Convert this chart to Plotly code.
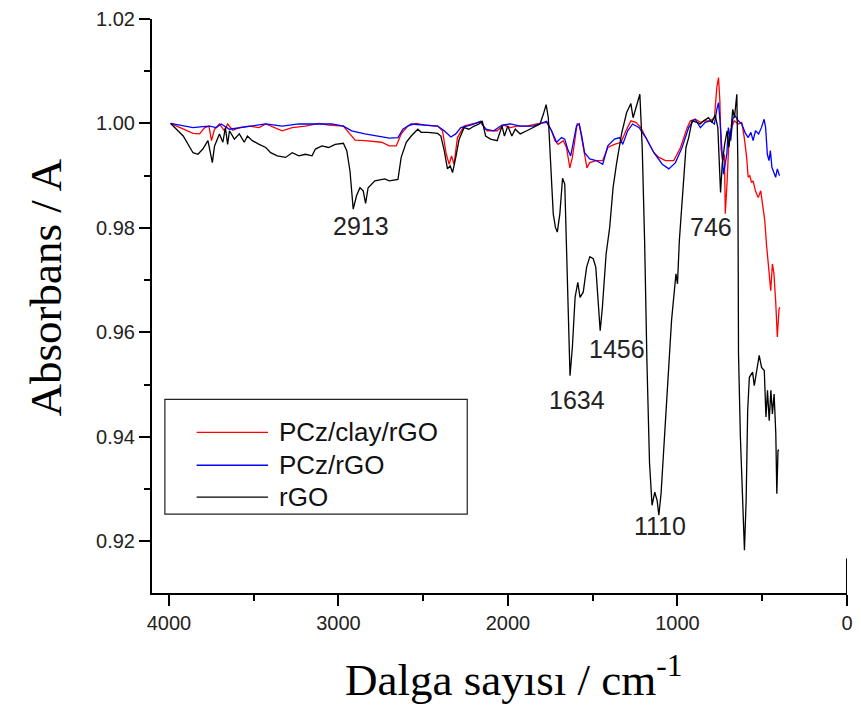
import plotly.graph_objects as go

# FTIR spectra: wavenumber (cm-1) and absorbance for each sample
series_names = ["PCz/clay/rGO", "PCz/rGO", "rGO"]
series_colors = ["#ff0000", "#0000ff", "#000000"]

wn_pcz_clay_rgo = [3990, 3936, 3897, 3858, 3819, 3789, 3764, 3749, 3731, 3702, 3673, 3654, 3624, 3585,
                   3527, 3468, 3429, 3371, 3332, 3273, 3195, 3117, 3058, 2971, 2941, 2902, 2844, 2746,
                   2700, 2659, 2630, 2591, 2542, 2493, 2415, 2386, 2366, 2347, 2333, 2318, 2298, 2259,
                   2211, 2162, 2123, 2064, 2025, 1986, 1947, 1889, 1830, 1772, 1743, 1723, 1704, 1674,
                   1655, 1635, 1620, 1606, 1592, 1580, 1567, 1548, 1534, 1518, 1480, 1441, 1411, 1372,
                   1333, 1304, 1275, 1246, 1216, 1177, 1139, 1110, 1070, 1022, 982, 943, 924, 895, 865,
                   836, 807, 782, 768, 758, 750, 743, 733, 723, 718, 707, 696, 680, 665, 641, 621, 606,
                   592, 583, 573, 563, 554, 540, 524, 509, 495, 485, 475, 462, 450, 440, 431, 421, 411,
                   401, 396]
ab_pcz_clay_rgo = [1.0000, 0.9992, 0.9986, 0.9981, 0.9980, 0.9992, 0.9995, 0.9967, 0.9989, 0.9999,
                   0.9986, 0.9999, 0.9987, 0.9992, 0.9995, 0.9992, 0.9999, 0.9992, 0.9986, 0.9992,
                   0.9995, 1.0000, 0.9997, 0.9995, 0.9983, 0.9968, 0.9967, 0.9964, 0.9957, 0.9957,
                   0.9980, 0.9995, 1.0000, 0.9997, 0.9995, 0.9986, 0.9944, 0.9922, 0.9938, 0.9922,
                   0.9973, 0.9995, 0.9999, 1.0002, 0.9986, 0.9986, 0.9997, 0.9992, 0.9995, 0.9995,
                   0.9999, 1.0002, 0.9986, 0.9967, 0.9960, 0.9967, 0.9954, 0.9915, 0.9935, 0.9967,
                   0.9999, 0.9999, 0.9973, 0.9935, 0.9915, 0.9925, 0.9929, 0.9929, 0.9954, 0.9960,
                   0.9964, 0.9986, 1.0005, 1.0002, 0.9992, 0.9967, 0.9944, 0.9935, 0.9929, 0.9929,
                   0.9954, 0.9992, 1.0005, 1.0008, 1.0002, 1.0005, 1.0005, 1.0011, 1.0069, 1.0088,
                   1.0043, 0.9951, 0.9929, 0.9941, 0.9827, 0.9890, 0.9973, 0.9992, 1.0005, 0.9999,
                   1.0002, 0.9973, 0.9935, 0.9897, 0.9900, 0.9887, 0.9890, 0.9871, 0.9858, 0.9871,
                   0.9839, 0.9814, 0.9769, 0.9725, 0.9680, 0.9731, 0.9712, 0.9661, 0.9591, 0.9645,
                   0.9648]

wn_pcz_rgo = [3990, 3916, 3858, 3800, 3760, 3721, 3692, 3643, 3585, 3527, 3429, 3332, 3234, 3136,
              3039, 2971, 2922, 2844, 2746, 2700, 2649, 2620, 2571, 2512, 2415, 2376, 2337, 2308,
              2278, 2220, 2162, 2132, 2084, 2035, 1986, 1928, 1850, 1772, 1743, 1713, 1684, 1665,
              1645, 1630, 1612, 1596, 1580, 1567, 1548, 1518, 1480, 1441, 1411, 1372, 1342, 1323,
              1294, 1265, 1226, 1187, 1139, 1090, 1051, 1012, 973, 934, 905, 895, 865, 836, 807,
              782, 768, 758, 749, 739, 729, 719, 709, 700, 686, 674, 661, 641, 621, 602, 583, 567,
              554, 540, 521, 505, 489, 480, 470, 460, 452, 443, 431, 421, 411, 398]
ab_pcz_rgo = [1.0000, 0.9995, 0.9992, 0.9994, 0.9995, 0.9992, 0.9999, 0.9989, 0.9992, 0.9995,
              0.9999, 0.9995, 0.9999, 0.9999, 0.9999, 0.9995, 0.9986, 0.9980, 0.9974, 0.9972,
              0.9973, 0.9989, 0.9999, 0.9997, 0.9995, 0.9986, 0.9974, 0.9980, 0.9992, 0.9997,
              1.0004, 0.9989, 0.9986, 0.9997, 0.9999, 0.9995, 0.9995, 1.0004, 0.9986, 0.9964,
              0.9973, 0.9970, 0.9948, 0.9938, 0.9967, 0.9995, 0.9999, 0.9980, 0.9944, 0.9932,
              0.9929, 0.9922, 0.9957, 0.9970, 0.9973, 0.9960, 0.9986, 0.9999, 0.9992, 0.9973,
              0.9944, 0.9922, 0.9913, 0.9925, 0.9954, 0.9992, 1.0006, 1.0008, 0.9992, 1.0002,
              1.0005, 0.9999, 1.0027, 1.0040, 1.0005, 0.9941, 0.9903, 0.9922, 0.9941, 0.9992,
              0.9967, 1.0008, 1.0015, 1.0005, 0.9999, 0.9983, 0.9973, 0.9983, 0.9967, 0.9986,
              0.9980, 0.9992, 1.0008, 0.9992, 0.9941, 0.9929, 0.9948, 0.9916, 0.9906, 0.9897,
              0.9913, 0.9900]

wn_rgo = [3990, 3916, 3858, 3829, 3800, 3770, 3744, 3731, 3702, 3682, 3667, 3654, 3643, 3614, 3585,
          3556, 3537, 3508, 3468, 3429, 3400, 3361, 3312, 3273, 3234, 3195, 3156, 3136, 3098, 3058,
          3019, 2971, 2951, 2932, 2913, 2893, 2873, 2854, 2840, 2825, 2785, 2727, 2700, 2670, 2649,
          2630, 2600, 2571, 2532, 2512, 2474, 2415, 2396, 2376, 2357, 2341, 2327, 2308, 2288, 2259,
          2230, 2200, 2171, 2152, 2132, 2103, 2064, 2035, 2021, 2001, 1977, 1957, 1928, 1889, 1850,
          1811, 1791, 1775, 1762, 1746, 1733, 1720, 1709, 1694, 1678, 1665, 1651, 1642, 1634, 1620,
          1604, 1588, 1575, 1556, 1536, 1517, 1497, 1482, 1468, 1456, 1443, 1421, 1400, 1380, 1360,
          1330, 1300, 1275, 1262, 1242, 1222, 1208, 1194, 1180, 1165, 1150, 1134, 1120, 1110, 1097,
          1077, 1058, 1035, 1009, 1000, 989, 970, 950, 934, 914, 885, 865, 846, 817, 797, 778, 762,
          753, 746, 736, 722, 707, 697, 683, 674, 664, 650, 644, 640, 629, 615, 605, 595, 586, 576,
          557, 547, 531, 518, 504, 488, 478, 469, 459, 449, 440, 430, 420, 414, 407, 401]
ab_rgo = [1.0000, 0.9976, 0.9944, 0.9941, 0.9951, 0.9967, 0.9925, 0.9957, 0.9980, 0.9964, 0.9992,
          0.9960, 0.9986, 0.9970, 0.9980, 0.9964, 0.9976, 0.9967, 0.9960, 0.9954, 0.9944, 0.9938,
          0.9935, 0.9944, 0.9938, 0.9941, 0.9938, 0.9951, 0.9957, 0.9954, 0.9960, 0.9962, 0.9948,
          0.9909, 0.9836, 0.9862, 0.9877, 0.9871, 0.9847, 0.9877, 0.9890, 0.9894, 0.9890, 0.9892,
          0.9893, 0.9935, 0.9964, 0.9976, 0.9989, 0.9983, 0.9983, 0.9981, 0.9976, 0.9948, 0.9913,
          0.9919, 0.9906, 0.9935, 0.9970, 0.9992, 0.9989, 0.9995, 0.9999, 1.0005, 0.9976, 0.9970,
          0.9967, 0.9995, 0.9976, 0.9995, 0.9976, 0.9989, 0.9980, 0.9986, 0.9992, 0.9999, 1.0018,
          1.0036, 1.0011, 0.9922, 0.9827, 0.9801, 0.9792, 0.9827, 0.9895, 0.9884, 0.9731, 0.9603,
          0.9517, 0.9572, 0.9667, 0.9696, 0.9667, 0.9677, 0.9725, 0.9745, 0.9741, 0.9725, 0.9648,
          0.9603, 0.9648, 0.9750, 0.9801, 0.9877, 0.9922, 0.9980, 1.0021, 1.0038, 1.0011, 1.0034,
          1.0056, 0.9954, 0.9776, 0.9540, 0.9350, 0.9269, 0.9294, 0.9278, 0.9250, 0.9291, 0.9400,
          0.9508, 0.9623, 0.9712, 0.9693, 0.9776, 0.9871, 0.9954, 0.9973, 1.0005, 1.0002, 0.9999,
          1.0005, 1.0011, 1.0002, 1.0016, 0.9992, 0.9928, 0.9868, 0.9922, 0.9960, 0.9986, 0.9954,
          0.9992, 1.0027, 1.0011, 1.0056, 0.9928, 0.9559, 0.9400, 0.9259, 0.9183, 0.9278, 0.9450,
          0.9514, 0.9524, 0.9498, 0.9527, 0.9556, 0.9533, 0.9527, 0.9438, 0.9489, 0.9431, 0.9489,
          0.9444, 0.9482, 0.9406, 0.9291, 0.9374, 0.9375]

# labelled absorption bands: (band position text, label x, label y)
peak_labels = ["2913", "1634", "1456", "1110", "746"]
peak_label_x = [2865, 1593, 1358, 1105, 801]
peak_label_y = [0.9803, 0.9470, 0.9568, 0.9230, 0.9802]

x_ticks = [4000, 3000, 2000, 1000, 0]
y_ticks = [0.92, 0.94, 0.96, 0.98, 1.00, 1.02]

sans = "Liberation Sans, Arial, sans-serif"
serif = "Liberation Serif, Times New Roman, serif"

fig = go.Figure()
for name, color, xs, ys in zip(series_names, series_colors,
                               [wn_pcz_clay_rgo, wn_pcz_rgo, wn_rgo],
                               [ab_pcz_clay_rgo, ab_pcz_rgo, ab_rgo]):
    fig.add_trace(go.Scatter(x=xs, y=ys, mode="lines", name=name, showlegend=False,
                             line=dict(color=color, width=1.3)))

# band labels
for txt, lx, ly in zip(peak_labels, peak_label_x, peak_label_y):
    fig.add_annotation(x=lx, y=ly, text=txt, showarrow=False,
                       font=dict(family=sans, size=25, color="#222222"))

# legend box with line samples
fig.add_shape(type="rect", xref="paper", yref="paper", x0=0.0185, x1=0.4536, y0=0.1374, y1=0.3374,
              line=dict(color="#222222", width=1.2), fillcolor="white", layer="above")
legend_rows = [0.2800, 0.2226, 0.1670]
for name, color, yr in zip(series_names, series_colors, legend_rows):
    fig.add_shape(type="line", xref="paper", yref="paper", x0=0.0642, x1=0.1669, y0=yr, y1=yr,
                  line=dict(color=color, width=1.3), layer="above")
    fig.add_annotation(xref="paper", yref="paper", x=0.1797, y=yr, text=name, showarrow=False,
                       xanchor="left", yanchor="middle",
                       font=dict(family=sans, size=26, color="#111111"))

# short vertical stub at the right end of the wavenumber axis
fig.add_shape(type="line", xref="x", yref="paper", x0=0, x1=0, y0=0, y1=0.06,
              line=dict(color="black", width=2))

# axis titles
fig.add_annotation(xref="paper", yref="paper", x=-0.1526, y=0.532, text="Absorbans / A",
                   textangle=-90, showarrow=False, xanchor="center", yanchor="middle",
                   font=dict(family=serif, size=45, color="black"))
fig.add_annotation(xref="paper", yref="paper", x=0.520, y=-0.146,
                   text="Dalga sayısı / cm<sup>-1</sup>", showarrow=False,
                   xanchor="center", yanchor="middle",
                   font=dict(family=serif, size=45, color="black"))

fig.update_layout(
    width=861, height=711,
    margin=dict(l=152, r=8, t=18, b=118),
    paper_bgcolor="white", plot_bgcolor="white",
    showlegend=False,
    xaxis=dict(range=[4100, 0], tickvals=x_ticks, ticktext=[str(v) for v in x_ticks],
               showgrid=False, zeroline=False, showline=True, linecolor="black", linewidth=2,
               ticks="outside", ticklen=11, tickwidth=2, tickcolor="black",
               minor=dict(tickvals=[3500, 2500, 1500, 500], ticks="outside", ticklen=6,
                          tickwidth=2, tickcolor="black"),
               tickfont=dict(family=sans, size=20, color="#222222")),
    yaxis=dict(range=[0.9101, 1.02], tickvals=y_ticks, ticktext=[f"{v:.2f}" for v in y_ticks],
               showgrid=False, zeroline=False, showline=True, linecolor="black", linewidth=2,
               ticks="outside", ticklen=11, tickwidth=2, tickcolor="black",
               minor=dict(tickvals=[0.93, 0.95, 0.97, 0.99, 1.01], ticks="outside", ticklen=6,
                          tickwidth=2, tickcolor="black"),
               tickfont=dict(family=sans, size=20, color="#222222")),
)

fig.write_html("out.html")
